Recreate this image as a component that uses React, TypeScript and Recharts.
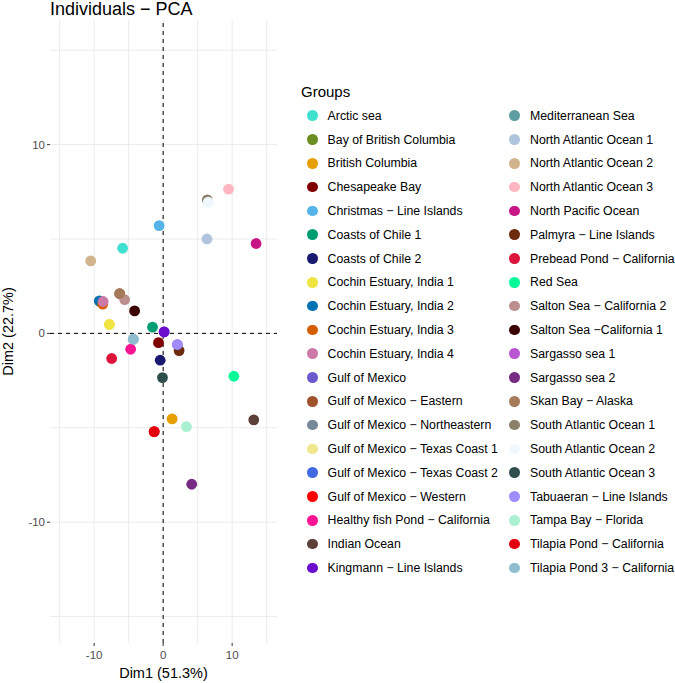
import { ScatterChart, Scatter, XAxis, YAxis, CartesianGrid, ReferenceLine } from 'recharts';

const groups = [
  'Arctic sea', 'Bay of British Columbia', 'British Columbia', 'Chesapeake Bay',
  'Christmas − Line Islands', 'Coasts of Chile 1', 'Coasts of Chile 2',
  'Cochin Estuary, India 1', 'Cochin Estuary, India 2', 'Cochin Estuary, India 3',
  'Cochin Estuary, India 4', 'Gulf of Mexico', 'Gulf of Mexico − Eastern',
  'Gulf of Mexico − Northeastern', 'Gulf of Mexico − Texas Coast 1',
  'Gulf of Mexico − Texas Coast 2', 'Gulf of Mexico − Western',
  'Healthy fish Pond − California', 'Indian Ocean', 'Kingmann − Line Islands',
  'Mediterranean Sea', 'North Atlantic Ocean 1', 'North Atlantic Ocean 2',
  'North Atlantic Ocean 3', 'North Pacific Ocean', 'Palmyra − Line Islands',
  'Prebead Pond − California', 'Red Sea', 'Salton Sea − California 2',
  'Salton Sea −California 1', 'Sargasso sea 1', 'Sargasso sea 2', 'Skan Bay − Alaska',
  'South Atlantic Ocean 1', 'South Atlantic Ocean 2', 'South Atlantic Ocean 3',
  'Tabuaeran − Line Islands', 'Tampa Bay − Florida', 'Tilapia Pond − California',
  'Tilapia Pond 3 − California',
];

const colors = [
  '#40E0D0', '#6B8E23', '#E69F00', '#800000', '#56B4E9', '#009E73', '#191970',
  '#F0E442', '#0072B2', '#D55E00', '#CC79A7', '#6A5ACD', '#A0522D', '#778899',
  '#F0E68C', '#4169E1', '#FF0000', '#FF1493', '#5D4037', '#6A0DCD', '#5F9EA0',
  '#B0C4DE', '#D2B48C', '#FFB6C1', '#C71585', '#6D2A0D', '#DC143C', '#00FA9A',
  '#BC8F8F', '#3B0000', '#BA55D3', '#762A83', '#A67B5B', '#8B8068', '#F0F8FF',
  '#2F4F4F', '#A08CFF', '#AAF0D1', '#E3000F', '#8FBCCF',
];

const dim1 = [
  -5.87, -9.2, 1.3, -0.68, -0.58, -1.54, -0.43, -7.79, -9.24, -8.76,
  -8.7, 0.14, -6.3, -8.8, -7.8, -9.2, -1.3, -4.71, 13.13, 0.14,
  -4.33, 6.35, -10.5, 9.48, 13.47, 2.31, -7.46, 10.25, -5.58, -4.14,
  2.06, 4.14, -6.3, 6.4, 6.54, -0.1, 2.06, 3.37, -1.3, -4.33,
];

const dim2 = [
  4.51, 1.7, -4.53, -0.49, 5.71, 0.33, -1.42, 0.47, 1.72, 1.55,
  1.69, 0.08, 2.1, 1.6, 0.47, 1.7, -5.2, -0.84, -4.58, 0.08,
  -0.31, 5.0, 3.84, 7.64, 4.76, -0.91, -1.33, -2.27, 1.79, 1.19,
  -0.59, -7.99, 2.11, 7.07, 6.95, -2.34, -0.59, -4.94, -5.2, -0.31,
];

// groups whose points sit underneath others
const drawnFirst = [
  'Bay of British Columbia', 'Gulf of Mexico', 'Gulf of Mexico − Eastern',
  'Gulf of Mexico − Northeastern', 'Gulf of Mexico − Texas Coast 1',
  'Gulf of Mexico − Texas Coast 2', 'Gulf of Mexico − Western',
  'Mediterranean Sea', 'Sargasso sea 1',
];

const gridValues = [-15, -10, -5, 0, 5, 10, 15];
const axisTicks = [-10, 0, 10];

const font = '"Liberation Sans", Arial, sans-serif';

const points = groups.map((name, i) => ({ name, color: colors[i], x: dim1[i], y: dim2[i] }));
const ordered = [
  ...points.filter((p) => drawnFirst.includes(p.name)),
  ...points.filter((p) => !drawnFirst.includes(p.name)),
];

const Dot = (props: any) => <circle cx={props.cx} cy={props.cy} r={5.4} fill={props.fill} />;

const LegendBlock = () => (
  <div style={{ position: 'absolute', left: 0, top: 0, fontFamily: font, color: '#000' }}>
    <div style={{ position: 'absolute', left: 301, top: 83, fontSize: 15, whiteSpace: 'nowrap' }}>Groups</div>
    {groups.map((name, i) => {
      const col = i < 20 ? 0 : 1;
      const row = i % 20;
      const cx = col === 0 ? 312.3 : 514.7;
      const cy = 115.7 + row * 23.8;
      return (
        <div key={name}>
          <div
            style={{
              position: 'absolute', left: cx - 5.4, top: cy - 5.4, width: 10.8, height: 10.8,
              borderRadius: '50%', background: colors[i],
            }}
          />
          <div
            style={{
              position: 'absolute', left: cx + 15.3, top: cy - 8, fontSize: 12.3,
              lineHeight: '16px', whiteSpace: 'nowrap',
            }}
          >
            {name}
          </div>
        </div>
      );
    })}
  </div>
);

export default function App() {
  return (
    <div style={{ position: 'absolute', left: 0, top: 0, width: 675, height: 683, background: '#fff', fontFamily: font, overflow: 'hidden' }}>
      <div style={{ position: 'absolute', left: 50, top: 0, fontSize: 18, lineHeight: '18px', whiteSpace: 'nowrap' }}>Individuals − PCA</div>
      <ScatterChart width={675} height={683} margin={{ top: 20, right: 398, left: 0, bottom: 0 }}>
        <CartesianGrid stroke="#ebebeb" horizontalValues={gridValues} verticalValues={gridValues} />
        <XAxis
          type="number"
          dataKey="x"
          domain={[-16.4, 16.5]}
          ticks={axisTicks}
          allowDataOverflow
          axisLine={false}
          tickLine={{ stroke: '#333' }}
          tickSize={3}
          tickMargin={5}
          height={40}
          tick={{ fill: '#4d4d4d', fontSize: 11.5 }}
          label={{ value: 'Dim1 (51.3%)', position: 'insideBottom', offset: 5, fill: '#000', fontSize: 14.5 }}
        />
        <YAxis
          type="number"
          dataKey="y"
          domain={[-16.4, 16.6]}
          ticks={axisTicks}
          allowDataOverflow
          axisLine={false}
          tickLine={{ stroke: '#333' }}
          tickSize={3}
          tickMargin={2}
          width={50}
          tick={{ fill: '#4d4d4d', fontSize: 11.5 }}
          label={{ value: 'Dim2 (22.7%)', angle: -90, position: 'insideLeft', offset: 8, fill: '#000', fontSize: 14.5, style: { textAnchor: 'middle' } }}
        />
        <ReferenceLine x={0} stroke="#000" strokeDasharray="4 4" />
        <ReferenceLine y={0} stroke="#000" strokeDasharray="4 4" />
        {ordered.map((p) => (
          <Scatter
            key={p.name}
            name={p.name}
            data={[{ x: p.x, y: p.y }]}
            fill={p.color}
            shape={Dot}
            isAnimationActive={false}
          />
        ))}
      </ScatterChart>
      <LegendBlock />
    </div>
  );
}
